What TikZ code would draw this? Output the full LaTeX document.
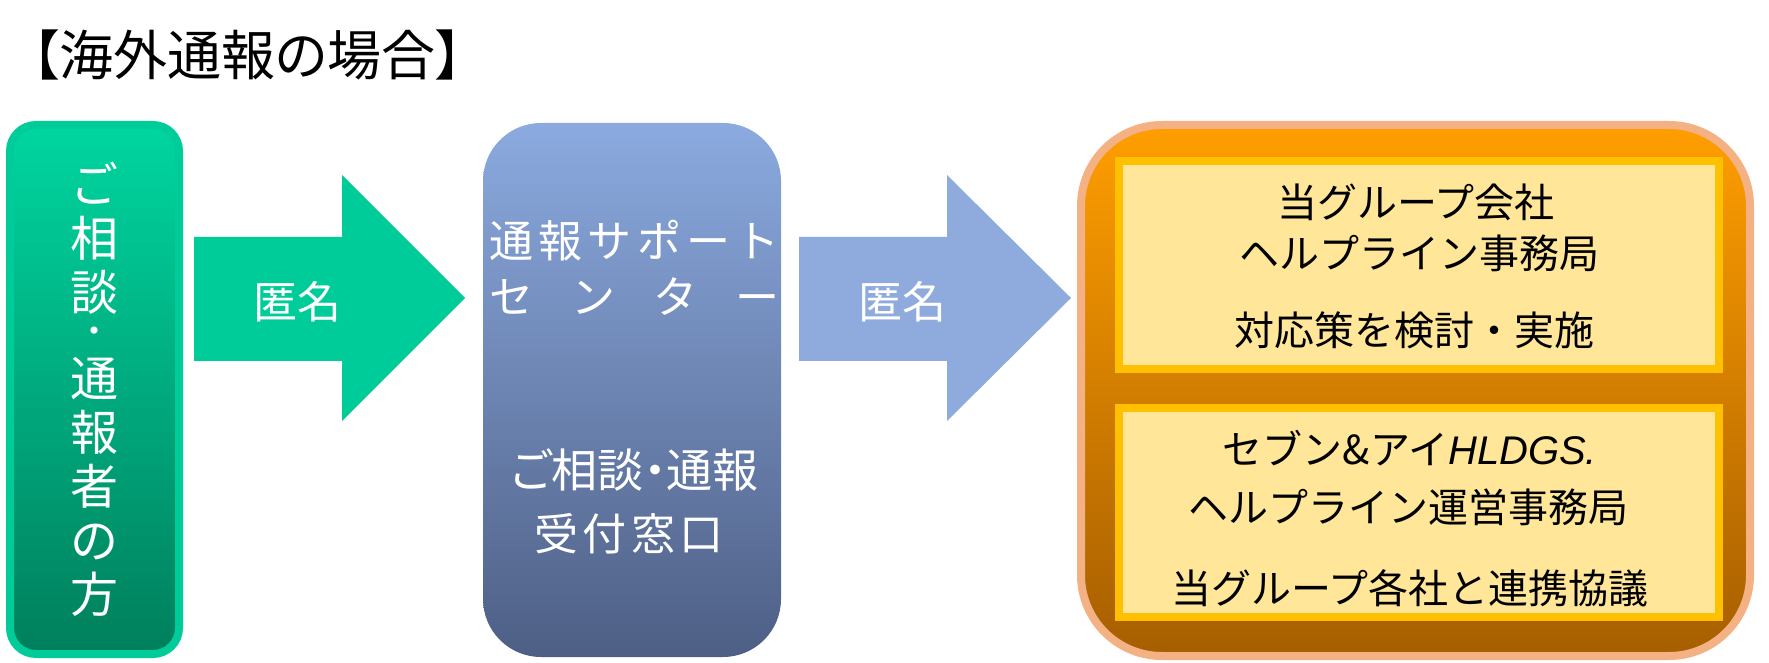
\documentclass[tikz,border=0pt]{standalone}
\usepackage{fontspec}
\setmainfont{Noto Sans CJK JP}
\newfontfamily\jpp{Noto Sans CJK JP}[RawFeature=+palt]
\newfontfamily\lsans{Liberation Sans}
\definecolor{grnB}{HTML}{00CC99}
\definecolor{grnT}{HTML}{00D6A0}
\definecolor{grnD}{HTML}{007F5C}
\definecolor{bluT}{HTML}{8BAADF}
\definecolor{bluD}{HTML}{4E5F85}
\definecolor{bluA}{HTML}{8FAADC}
\definecolor{orgB}{HTML}{F4B183}
\definecolor{orgT}{HTML}{FF9E00}
\definecolor{orgD}{HTML}{A65E00}
\definecolor{ylwB}{HTML}{FFC000}
\definecolor{ylwF}{HTML}{FFE699}
\tikzset{
  panel/.style={rectangle, inner sep=0pt, outer sep=0pt},
  wtext/.style={text=white, inner sep=0pt, align=center},
  btext/.style={text=black, inner sep=0pt, align=center, font=\fontsize{40}{44}\selectfont},
  inbox/.style={panel, draw=ylwB, fill=ylwF, line width=8pt, minimum width=600pt},
}
\begin{document}
\begin{tikzpicture}[x=1pt,y=1pt]
\useasboundingbox (0,0) rectangle (1769,662);
% title
\node[inner sep=0pt, font=\jpp\fontsize{54}{58}\selectfont] (title) at (247.5,607.5) {【海外通報の場合】};
% left box
\node[panel, rounded corners=26pt, draw=grnB, line width=8pt, top color=grnT, bottom color=grnD,
      minimum width=169pt, minimum height=529pt] (src) at (94.5,272.5) {};
\node[wtext, font=\fontsize{48}{54}\selectfont] (srctxtA) at (94.5,424)
  {ご\\相\\談};
\node[wtext, font=\fontsize{34}{38}\selectfont] (srctxtB) at (94.5,327)
  {・};
\node[wtext, font=\fontsize{48}{54}\selectfont] (srctxtC) at (94.5,175)
  {通\\報\\者\\の\\方};
% green arrow
\fill[grnB] (194,425) -- (342,425) -- (342,487) -- (465,364) -- (342,241) -- (342,301) -- (194,301) -- cycle;
\node[wtext, font=\fontsize{44}{48}\selectfont] (anon1) at (297,360) {匿名};
% blue box
\node[panel, rounded corners=58pt, top color=bluT, bottom color=bluD,
      minimum width=298pt, minimum height=534pt] (center) at (632,272) {};
\node[wtext, font=\fontsize{44}{48}\selectfont] (c1) at (634.5,421)
  {\hbox to 291pt{通\hfill 報\hfill サ\hfill ポ\hfill ー\hfill ト}};
\node[wtext, font=\fontsize{44}{48}\selectfont] (c2) at (634.5,365)
  {\hbox to 291pt{セ\hfill ン\hfill タ\hfill ー}};
\node[wtext, font=\jpp\fontsize{46}{50}\selectfont] (c3) at (635,192) {ご相談・通報};
\node[wtext, font=\fontsize{44}{48}\selectfont] (c4) at (629,128)
  {\hbox to 190pt{受\hfill 付\hfill 窓\hfill 口}};
% blue arrow
\fill[bluA] (799,425) -- (947,425) -- (947,487) -- (1071,364) -- (947,241) -- (947,301) -- (799,301) -- cycle;
\node[wtext, font=\fontsize{44}{48}\selectfont] (anon2) at (902,360) {匿名};
% orange box
\node[panel, rounded corners=81pt, draw=orgB, line width=8pt, top color=orgT, bottom color=orgD,
      minimum width=669pt, minimum height=531pt] (dest) at (1415.5,271.5) {};
\node[inbox, minimum height=208pt] (box1) at (1419,397) {};
\node[inbox, minimum height=209pt] (box2) at (1419,149.5) {};
\node[btext] (b11) at (1416,460) {当グループ会社};
\node[btext] (b12) at (1419,409) {ヘルプライン事務局};
\node[btext] (b13) at (1414,332) {対応策を検討・実施};
\node[btext] (b21) at (1410,214) {セブン\&アイ{\lsans\itshape HLDGS.}};
\node[btext] (b22) at (1408,155) {ヘルプライン運営事務局};
\node[btext] (b23) at (1410,74) {当グループ各社と連携協議};
\end{tikzpicture}
\end{document}
